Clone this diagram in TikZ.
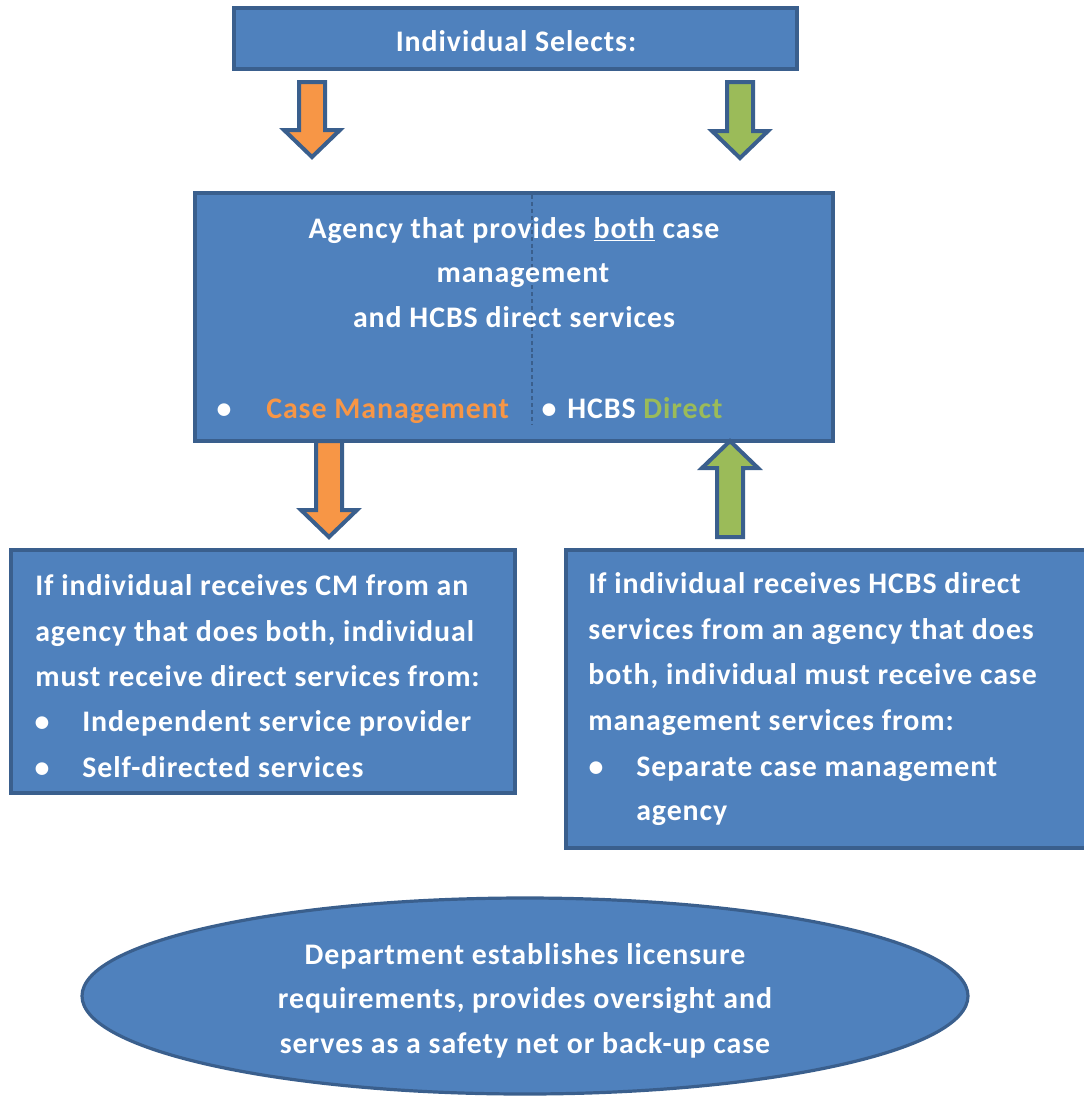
\documentclass[tikz,border=0pt]{standalone}
\usepackage{fontspec}
\setmainfont{Carlito}[LetterSpace=3.2]
\usetikzlibrary{shapes.geometric,calc}

\definecolor{boxfill}{HTML}{4F81BD}
\definecolor{boxline}{HTML}{3A5F8D}
\definecolor{cmorange}{HTML}{F79646}
\definecolor{hcgreen}{HTML}{9BBB59}

% block arrow from a tail coordinate to a tip coordinate (vertical)
\newcommand\blockarrow[3]{%
  \draw[arrowline, fill=#1] let \p1=(#2), \p2=(#3), \n1={sign(\y2-\y1)} in
    (\x1-9.75pt,\y1) -- (\x1+9.75pt,\y1) -- (\x1+9.75pt,\y2-\n1*20.25pt)
    -- (\x1+21pt,\y2-\n1*20.25pt) -- (\x2,\y2) -- (\x1-21pt,\y2-\n1*20.25pt)
    -- (\x1-9.75pt,\y2-\n1*20.25pt) -- cycle;}

\begin{document}
\begin{tikzpicture}[x=0.75pt,y=-0.75pt,
  panel/.style={draw=boxline, line width=2.4pt, fill=boxfill, rectangle,
    inner sep=0pt, outer sep=0pt},
  oval/.style={draw=boxline, line width=2.4pt, fill=boxfill, ellipse,
    inner sep=0pt, outer sep=0pt},
  txt/.style={text=white, font=\fontsize{22.4}{26}\selectfont\bfseries, inner sep=0pt},
  arrowline/.style={draw=boxline, line width=3pt, line join=miter},
  divider/.style={draw=boxline, line width=0.9pt, dash pattern=on 3pt off 2.2pt}]
\useasboundingbox (0,0) rectangle (1083,1097);

% boxes
\node[panel, minimum width=422.25pt, minimum height=45.75pt] (sel) at (515.5,38.5) {};
\node[panel, minimum width=478.5pt, minimum height=186pt] (mid) at (514,317) {};
\node[panel, minimum width=378pt, minimum height=182.25pt] (lft) at (263,671.5) {};
\node[panel, minimum width=393pt, minimum height=223.5pt] (rgt) at (828,699) {};
\node[oval, minimum width=664.5pt, minimum height=147pt] (dept) at (525,996) {};

% divider inside the agency box
\draw[divider] ($(mid.north west)+(337,2)$) -- ($(mid.north west)+(337,232)$);

% arrow ends
\coordinate (a1s) at ($(sel.south west)+(78,13)$);
\coordinate (a1e) at ($(mid.north west)+(117,-36)$);
\coordinate (a2s) at ($(sel.south west)+(506,13)$);
\coordinate (a2e) at ($(mid.north west)+(545,-35)$);
\coordinate (a3s) at ($(mid.south west)+(134,0)$);
\coordinate (a3e) at ($(lft.north west)+(318,-13)$);
\coordinate (a4s) at ($(rgt.north west)+(164,-13)$);
\coordinate (a4e) at ($(mid.south west)+(535,0)$);

\blockarrow{cmorange}{a1s}{a1e}
\blockarrow{hcgreen}{a2s}{a2e}
\blockarrow{cmorange}{a3s}{a3e}
\blockarrow{hcgreen}{a4s}{a4e}

% top box text
\node[txt, anchor=base] (selt) at (516,51) {Individual Selects:};

% agency box text
\node[txt, anchor=base] (m1) at (514,238) {Agency that provides \underline{both} case};
\node[txt, anchor=base] (m2) at (523,282) {management};
\node[txt, anchor=base] (m3) at (514,327) {and HCBS direct services};
\node[txt, anchor=base] (mb1) at (224,418) {•};
\node[txt, anchor=base west, text=cmorange] (mcm) at (266,418) {Case Management};
\node[txt, anchor=base] (mb2) at (549,418) {•};
\node[txt, anchor=base west] (mhc) at (567,418) {HCBS \textcolor{hcgreen}{Direct}};

% left box text
\node[txt, anchor=base west] (l1) at (35,595) {If individual receives CM from an};
\node[txt, anchor=base west] (l2) at (35,641) {agency that does both, individual};
\node[txt, anchor=base west] (l3) at (35,686) {must receive direct services from:};
\node[txt, anchor=base] (lb1) at (42,731) {•};
\node[txt, anchor=base west] (l4) at (82,731) {Independent service provider};
\node[txt, anchor=base] (lb2) at (42,777) {•};
\node[txt, anchor=base west] (l5) at (82,777) {Self-directed services};

% right box text
\node[txt, anchor=base west] (r1) at (588,593) {If individual receives HCBS direct};
\node[txt, anchor=base west] (r2) at (588,639) {services from an agency that does};
\node[txt, anchor=base west] (r3) at (588,684) {both, individual must receive case};
\node[txt, anchor=base west] (r4) at (588,730) {management services from:};
\node[txt, anchor=base] (rb1) at (596,776) {•};
\node[txt, anchor=base west] (r5) at (636,776) {Separate case management};
\node[txt, anchor=base west] (r6) at (636,820) {agency};

% department text
\node[txt, anchor=base] (d1) at (525,964) {Department establishes licensure};
\node[txt, anchor=base] (d2) at (525,1008) {requirements, provides oversight and};
\node[txt, anchor=base] (d3) at (525,1053) {serves as a safety net or back-up case};
\end{tikzpicture}
\end{document}
